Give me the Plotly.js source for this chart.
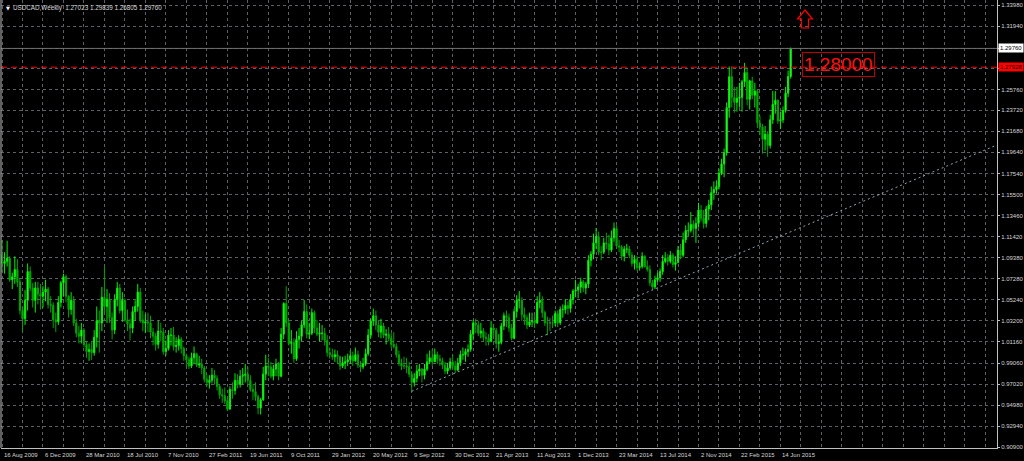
<!DOCTYPE html>
<html>
<head>
<meta charset="utf-8">
<script src="https://cdn.plot.ly/plotly-3.0.1.min.js"></script>
<style>
html,body{margin:0;padding:0;background:#000;}
#chart{width:1024px;height:461px;}
</style>
</head>
<body>
<div id="chart"></div>
<script>
// ---- DATA (USDCAD weekly) ----
const firstWeek = '2009-08-16';
const firstOpen = 1.0960;
const closes = [
1.0880,1.0900,1.0930,1.0720,1.0750,1.0820,1.0700,1.0420,1.0340,1.0520,
1.0800,1.0640,1.0520,1.0640,1.0580,1.0560,1.0600,1.0630,1.0480,1.0470,
1.0330,1.0310,1.0500,1.0690,1.0750,1.0560,1.0430,1.0520,1.0300,1.0200,
1.0170,1.0230,1.0090,1.0020,1.0040,1.0010,1.0160,1.0320,1.0300,1.0550,
1.0460,1.0530,1.0350,1.0230,1.0530,1.0640,1.0420,1.0520,1.0330,1.0290,
1.0250,1.0410,1.0460,1.0600,1.0330,1.0300,1.0310,1.0300,1.0210,1.0170,
1.0090,1.0220,1.0210,1.0020,1.0050,1.0180,1.0180,1.0070,1.0080,1.0140,
1.0050,0.9980,0.9940,0.9880,0.9960,1.0000,0.9890,0.9900,0.9860,0.9750,
0.9720,0.9740,0.9790,0.9760,0.9680,0.9600,0.9590,0.9540,0.9460,0.9650,
0.9640,0.9740,0.9700,0.9780,0.9790,0.9800,0.9740,0.9650,0.9630,0.9580,
0.9470,0.9550,0.9800,0.9880,0.9870,0.9780,0.9850,0.9900,0.9780,1.0190,
1.0490,1.0300,1.0100,1.0110,0.9950,1.0140,1.0170,1.0280,1.0410,1.0190,
1.0200,1.0400,1.0250,1.0190,1.0200,1.0200,1.0130,1.0010,0.9990,0.9970,
0.9990,0.9970,0.9880,0.9910,0.9920,0.9940,0.9980,0.9930,0.9990,0.9890,
0.9870,0.9900,1.0000,1.0180,1.0320,1.0370,1.0280,1.0210,1.0270,1.0180,
1.0190,1.0150,1.0090,1.0070,0.9990,0.9910,0.9880,0.9880,0.9870,0.9800,
0.9720,0.9760,0.9830,0.9850,0.9790,0.9850,0.9920,0.9960,0.9920,0.9990,
0.9950,0.9930,0.9890,0.9830,0.9860,0.9920,0.9880,0.9840,0.9910,0.9990,
0.9990,1.0020,1.0040,1.0190,1.0300,1.0280,1.0200,1.0220,1.0160,1.0150,
1.0120,1.0250,1.0230,1.0100,1.0110,1.0270,1.0370,1.0350,1.0250,1.0150,
1.0410,1.0520,1.0520,1.0380,1.0350,1.0280,1.0310,1.0320,1.0300,1.0500,
1.0520,1.0400,1.0300,1.0300,1.0300,1.0300,1.0390,1.0300,1.0430,1.0430,
1.0470,1.0440,1.0530,1.0610,1.0620,1.0650,1.0700,1.0640,1.0680,1.0910,
1.0970,1.1080,1.1140,1.0990,1.0990,1.1080,1.1070,1.1010,1.1130,1.1220,
1.1050,1.1040,1.0950,1.1020,1.1020,1.0960,1.0880,1.0920,1.0840,1.0850,
1.0950,1.0850,1.0820,1.0690,1.0650,1.0720,1.0740,1.0800,1.0900,1.0930,
1.0900,1.0960,1.0870,1.0890,1.1010,1.0960,1.1110,1.1200,1.1200,1.1260,
1.1220,1.1270,1.1400,1.1320,1.1270,1.1410,1.1450,1.1570,1.1600,1.1630,
1.1760,1.1850,1.1960,1.2400,1.2700,1.2500,1.2450,1.2490,1.2500,1.2650,
1.2740,1.2480,1.2660,1.2520,1.2560,1.2250,1.2210,1.2090,1.2140,1.2030,
1.2280,1.2430,1.2470,1.2270,1.2280,1.2370,1.2540,1.27023,1.29760];
const highs = [
1.1105,1.0990,1.1100,1.0950,1.0790,1.0950,1.0920,1.0730,1.0460,1.0620,
1.0880,1.0850,1.0690,1.0700,1.0700,1.0680,1.0660,1.0720,1.0650,1.0560,
1.0500,1.0400,1.0560,1.0710,1.0780,1.0770,1.0570,1.0600,1.0560,1.0340,
1.0270,1.0300,1.0250,1.0120,1.0100,1.0120,1.0230,1.0460,1.0420,1.0650,
1.0852,1.0630,1.0590,1.0400,1.0580,1.0700,1.0680,1.0600,1.0540,1.0430,
1.0340,1.0460,1.0520,1.0680,1.0640,1.0420,1.0390,1.0400,1.0370,1.0250,
1.0200,1.0320,1.0300,1.0250,1.0130,1.0230,1.0250,1.0260,1.0160,1.0180,
1.0160,1.0070,1.0000,0.9970,1.0010,1.0070,1.0010,0.9980,0.9950,0.9880,
0.9800,0.9790,0.9860,0.9840,0.9790,0.9700,0.9660,0.9670,0.9560,0.9680,
0.9720,0.9810,0.9800,0.9840,0.9860,0.9900,0.9870,0.9790,0.9700,0.9720,
0.9600,0.9570,0.9870,0.9990,0.9960,0.9920,0.9890,0.9950,0.9920,1.0250,
1.0500,1.0658,1.0330,1.0230,1.0150,1.0220,1.0250,1.0320,1.0524,1.0480,
1.0300,1.0440,1.0420,1.0330,1.0300,1.0280,1.0250,1.0180,1.0060,1.0050,
1.0040,1.0030,0.9980,0.9970,0.9980,1.0000,1.0030,1.0020,1.0060,1.0030,
0.9930,0.9960,1.0050,1.0240,1.0340,1.0440,1.0420,1.0330,1.0340,1.0300,
1.0240,1.0260,1.0200,1.0210,1.0100,1.0030,0.9950,0.9970,0.9960,0.9920,
0.9830,0.9810,0.9890,0.9900,0.9860,0.9900,1.0000,1.0030,1.0040,1.0050,
1.0020,0.9990,0.9960,0.9920,0.9910,0.9960,0.9990,0.9930,0.9960,1.0030,
1.0060,1.0050,1.0090,1.0230,1.0330,1.0340,1.0320,1.0300,1.0250,1.0210,
1.0190,1.0320,1.0290,1.0250,1.0190,1.0300,1.0400,1.0420,1.0390,1.0290,
1.0440,1.0570,1.0610,1.0550,1.0450,1.0380,1.0400,1.0400,1.0380,1.0560,
1.0600,1.0560,1.0420,1.0360,1.0350,1.0370,1.0420,1.0420,1.0460,1.0480,
1.0530,1.0510,1.0580,1.0630,1.0720,1.0680,1.0740,1.0720,1.0700,1.0960,
1.1000,1.1170,1.1225,1.1190,1.1050,1.1130,1.1180,1.1160,1.1200,1.1278,
1.1250,1.1110,1.1060,1.1050,1.1070,1.1050,1.0990,1.0960,1.0950,1.0890,
1.0990,1.0960,1.0910,1.0860,1.0720,1.0760,1.0790,1.0830,1.0960,1.0990,
1.0970,1.1000,1.0980,1.0950,1.1050,1.1070,1.1180,1.1250,1.1280,1.1380,
1.1300,1.1330,1.1470,1.1450,1.1400,1.1440,1.1500,1.1630,1.1680,1.1690,
1.1800,1.1900,1.2000,1.2450,1.2800,1.2800,1.2600,1.2600,1.2640,1.2670,
1.2835,1.2790,1.2670,1.2700,1.2640,1.2580,1.2320,1.2240,1.2220,1.2170,
1.2330,1.2560,1.2560,1.2480,1.2360,1.2410,1.2600,1.2760,1.29839];
const lows = [
1.0800,1.0780,1.0850,1.0700,1.0630,1.0680,1.0650,1.0380,1.0210,1.0280,
1.0420,1.0610,1.0450,1.0400,1.0480,1.0430,1.0450,1.0510,1.0440,1.0400,
1.0250,1.0210,1.0280,1.0450,1.0560,1.0500,1.0350,1.0380,1.0270,1.0160,
1.0100,1.0100,1.0060,0.9960,0.9930,0.9940,0.9980,1.0060,1.0010,1.0220,
1.0400,1.0300,1.0300,1.0140,1.0190,1.0460,1.0390,1.0310,1.0310,1.0220,
1.0130,1.0200,1.0320,1.0410,1.0300,1.0220,1.0200,1.0210,1.0150,1.0080,
1.0030,1.0050,1.0120,0.9990,0.9980,1.0030,1.0080,1.0030,1.0010,1.0030,
1.0000,0.9930,0.9870,0.9850,0.9860,0.9900,0.9870,0.9860,0.9800,0.9720,
0.9680,0.9660,0.9710,0.9700,0.9640,0.9560,0.9520,0.9510,0.9440,0.9450,
0.9560,0.9600,0.9660,0.9670,0.9700,0.9720,0.9700,0.9630,0.9550,0.9540,
0.9410,0.9406,0.9540,0.9740,0.9780,0.9760,0.9740,0.9780,0.9740,0.9770,
1.0140,1.0260,1.0080,1.0000,0.9910,0.9930,1.0050,1.0120,1.0250,1.0150,
1.0140,1.0180,1.0200,1.0170,1.0120,1.0130,1.0080,0.9970,0.9950,0.9940,
0.9920,0.9900,0.9840,0.9860,0.9850,0.9880,0.9900,0.9880,0.9920,0.9860,
0.9820,0.9850,0.9880,0.9980,1.0150,1.0270,1.0230,1.0160,1.0150,1.0150,
1.0090,1.0120,1.0050,1.0050,0.9960,0.9880,0.9840,0.9850,0.9810,0.9770,
0.9633,0.9680,0.9720,0.9780,0.9720,0.9750,0.9830,0.9900,0.9880,0.9920,
0.9900,0.9880,0.9850,0.9800,0.9800,0.9840,0.9840,0.9810,0.9830,0.9880,
0.9940,0.9920,0.9970,1.0020,1.0130,1.0200,1.0170,1.0150,1.0120,1.0080,
1.0080,1.0110,1.0170,1.0050,1.0020,1.0090,1.0230,1.0260,1.0210,1.0130,
1.0140,1.0350,1.0440,1.0320,1.0280,1.0240,1.0260,1.0260,1.0250,1.0290,
1.0440,1.0350,1.0270,1.0180,1.0220,1.0250,1.0270,1.0260,1.0280,1.0350,
1.0390,1.0380,1.0400,1.0480,1.0550,1.0540,1.0590,1.0600,1.0580,1.0640,
1.0850,1.0920,1.1020,1.0960,1.0910,1.0970,1.1020,1.0960,1.0990,1.1090,
1.1020,1.0990,1.0910,1.0900,1.0980,1.0930,1.0850,1.0820,1.0810,1.0810,
1.0830,1.0840,1.0800,1.0660,1.0620,1.0630,1.0700,1.0700,1.0770,1.0880,
1.0860,1.0880,1.0840,1.0810,1.0880,1.0920,1.0940,1.1080,1.1140,1.1180,
1.1150,1.1080,1.1230,1.1290,1.1220,1.1230,1.1300,1.1400,1.1500,1.1560,
1.1600,1.1740,1.1720,1.1930,1.2300,1.2400,1.2350,1.2360,1.2400,1.2360,
1.2600,1.2420,1.2380,1.2480,1.2400,1.2200,1.2130,1.1950,1.1980,1.1920,
1.2000,1.2240,1.2340,1.2240,1.2190,1.2250,1.2350,1.2500,1.26805];
const xTickLabels = ['16 Aug 2009','6 Dec 2009','28 Mar 2010','18 Jul 2010','7 Nov 2010',
 '27 Feb 2011','19 Jun 2011','9 Oct 2011','29 Jan 2012','20 May 2012','9 Sep 2012',
 '30 Dec 2012','21 Apr 2013','11 Aug 2013','1 Dec 2013','23 Mar 2014','13 Jul 2014',
 '2 Nov 2014','22 Feb 2015','14 Jun 2015'];
const yTickVals = [1.3398,1.3194,1.2980,1.2776,1.2576,1.2372,1.2168,1.1964,1.1754,1.1550,
 1.1346,1.1142,1.0938,1.0728,1.0524,1.0320,1.0116,0.9906,0.9702,0.9498,0.9294,0.9090];
const yTickText = ['1.33980','1.31940','','','1.25760','1.23720','1.21680','1.19640','1.17540',
 '1.15500','1.13460','1.11420','1.09380','1.07280','1.05240','1.03200','1.01160','0.99060',
 '0.97020','0.94980','0.92940','0.90900'];
const headerText = 'USDCAD,Weekly\u00a0 1.27023 1.29839 1.26805 1.29760';
const bidPrice = 1.29760;
const hlinePrice = 1.27928;
const hlineText = '1.28000';
const trendX = ['2012-09-09', '2017-01-26'];
const trendY = [0.9633, 1.2035];

// ---- build ----
const DAY = 86400000;
const t0 = Date.parse(firstWeek + 'T00:00:00Z');
const weeks = closes.map((c, i) => new Date(t0 + i * 7 * DAY).toISOString().slice(0, 10));
const opens = [firstOpen].concat(closes.slice(0, -1));

const gridCol = '#5c5f66';
const axisCol = '#c0c0c0';
const txtCol = '#d6d6d6';
const font6 = {family: 'Liberation Sans, Arial, sans-serif', size: 6, color: txtCol};

const traces = [
 {
  type: 'candlestick', x: weeks, open: opens, high: highs, low: lows, close: closes,
  increasing: {line: {color: '#00f000', width: 1}, fillcolor: '#5dff5d'},
  decreasing: {line: {color: '#00a300', width: 1}, fillcolor: '#00b800'},
  whiskerwidth: 0, hoverinfo: 'skip', showlegend: false
 },
 {
  type: 'scatter', mode: 'lines', x: trendX, y: trendY,
  line: {color: '#8fa2ae', width: 1, dash: '2px,3px'}, hoverinfo: 'skip', showlegend: false
 }
];

const annotations = xTickLabels.map((t, k) => ({
  text: t, x: weeks[k * 16], xref: 'x', y: 0, yref: 'paper',
  xanchor: 'left', yanchor: 'top', yshift: -2, xshift: 0, showarrow: false, font: font6
}));
annotations.push(
 {text: '\u25BC', xref: 'paper', yref: 'paper', x: 0, y: 1, xanchor: 'left', yanchor: 'top',
  xshift: 3, yshift: -3, showarrow: false, font: {family: 'DejaVu Sans', size: 5, color: '#ffffff'}},
 {text: headerText, xref: 'paper', yref: 'paper', x: 0, y: 1, xanchor: 'left', yanchor: 'top',
  xshift: 10, yshift: -2, showarrow: false, font: {family: 'Liberation Sans, Arial', size: 6.3, color: txtCol}},
 {text: bidPrice.toFixed(5), xref: 'paper', yref: 'y', x: 1, y: bidPrice, xanchor: 'left', yanchor: 'middle',
  xshift: 1, showarrow: false, bgcolor: '#ffffff', borderpad: 1,
  font: {family: 'Liberation Sans, Arial', size: 6, color: '#000000'}},
 {text: hlinePrice.toFixed(5), xref: 'paper', yref: 'y', x: 1, y: hlinePrice, xanchor: 'left', yanchor: 'middle',
  xshift: 1, showarrow: false, bgcolor: '#ff0000', borderpad: 1,
  font: {family: 'Liberation Sans, Arial', size: 6, color: '#000000'}},
 {text: hlineText, xref: 'paper', yref: 'paper', x: 0.8404, y: 0.856, xanchor: 'center', yanchor: 'middle',
  showarrow: false, bordercolor: '#c00000', borderwidth: 1, borderpad: 1, bgcolor: 'rgba(0,0,0,0)',
  font: {family: 'Liberation Sans, Arial', size: 19, color: '#ff1010'}}
);

// outline "up" arrow symbol (paper coords from pixel positions)
function px(x) { return (x - 1) / 996; }
function py(y) { return 1 - y / 448; }
const arrowPts = [[805,10],[812.5,19],[808.5,19],[808.5,28],[801.5,28],[801.5,19],[797.5,19]];
const arrowPath = 'M' + arrowPts.map(p => px(p[0]).toFixed(5) + ',' + py(p[1]).toFixed(5)).join(' L') + ' Z';

const shapes = [
 {type: 'line', xref: 'paper', yref: 'y', x0: 0, x1: 1, y0: bidPrice, y1: bidPrice,
  line: {color: '#6f6f6f', width: 1}},
 {type: 'line', xref: 'paper', yref: 'y', x0: 0, x1: 1, y0: hlinePrice, y1: hlinePrice,
  line: {color: '#ff0000', width: 1, dash: '6px,4px'}},
 {type: 'line', xref: 'paper', yref: 'paper', x0: 0, x1: 0, y0: 0, y1: 1,
  line: {color: axisCol, width: 1}},
 {type: 'path', xref: 'paper', yref: 'paper', path: arrowPath,
  line: {color: '#ff0000', width: 1.2}, fillcolor: 'rgba(0,0,0,0)'}
];

const layout = {
 width: 1024, height: 461,
 paper_bgcolor: '#000000', plot_bgcolor: '#000000',
 margin: {l: 1, r: 27, t: 0, b: 13},
 showlegend: false,
 xaxis: {
  type: 'date', range: ['2009-08-13 06:00', '2017-01-26'], rangeslider: {visible: false},
  tickmode: 'linear', tick0: firstWeek, dtick: 56 * DAY,
  showticklabels: false, ticks: '',
  showgrid: true, gridcolor: gridCol, griddash: '3px,3px', gridwidth: 1,
  showline: true, linecolor: axisCol, linewidth: 1, zeroline: false, fixedrange: true
 },
 yaxis: {
  side: 'right', range: [0.90803, 1.3448], tickmode: 'array', tickvals: yTickVals, ticktext: yTickText,
  ticks: 'outside', ticklen: 2, tickcolor: axisCol, tickfont: font6,
  showgrid: true, gridcolor: gridCol, griddash: '3px,3px', gridwidth: 1,
  showline: true, linecolor: axisCol, linewidth: 1, zeroline: false, fixedrange: true
 },
 shapes: shapes, annotations: annotations
};

Plotly.newPlot('chart', traces, layout, {staticPlot: true, displayModeBar: false});
</script>
</body>
</html>
